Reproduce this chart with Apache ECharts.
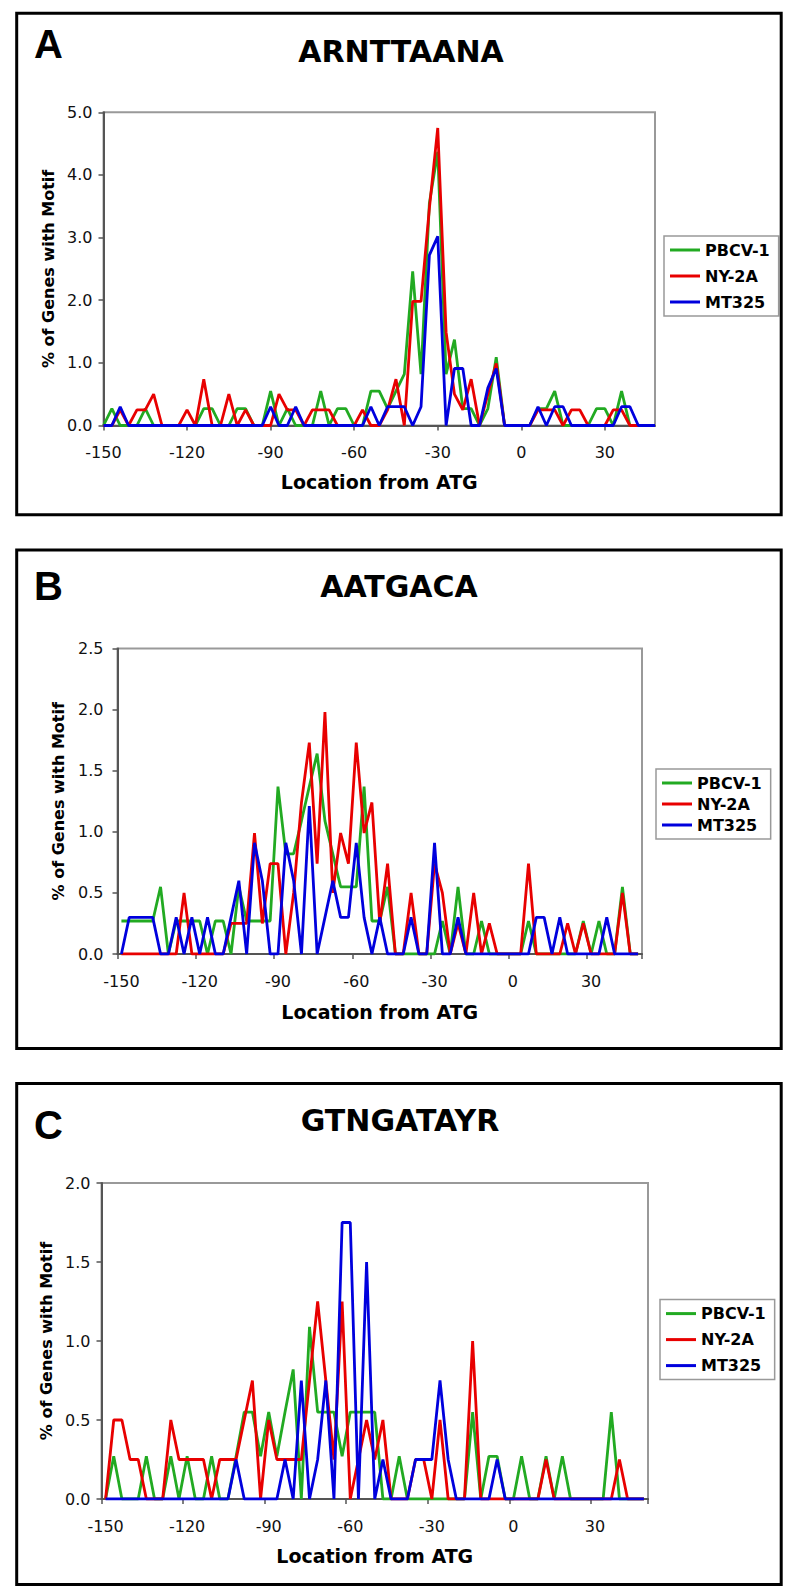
<!DOCTYPE html>
<html>
<head>
<meta charset="utf-8">
<script src="https://cdn.jsdelivr.net/npm/echarts@6/dist/echarts.min.js"></script>
<style>
html,body{margin:0;padding:0;background:#fff;}
#chart{width:789px;height:1595px;}
</style>
</head>
<body>
<div id="chart"></div>
<script>
// ---- data ----
const positions = [-150,-147,-144,-141,-138,-135,-132,-129,-126,-123,
  -120,-117,-114,-111,-108,-105,-102,-99,-96,-93,
  -90,-87,-84,-81,-78,-75,-72,-69,-66,-63,
  -60,-57,-54,-51,-48,-45,-42,-39,-36,-33,
  -30,-27,-24,-21,-18,-15,-12,-9,-6,-3,
  0,3,6,9,12,15,18,21,24,27,
  30,33,36,39,42,45,48];
const seriesNames = ['PBCV-1', 'NY-2A', 'MT325'];
const motifs = ['ARNTTAANA', 'AATGACA', 'GTNGATAYR'];
const panelLetters = ['A', 'B', 'C'];

const pbcvA = [0,0.27,0,0,0,0.27,0,0,0,0,
  0,0,0.27,0.27,0,0,0.27,0.27,0,0,
  0.55,0,0.27,0,0,0,0.55,0,0.27,0.27,
  0,0,0.55,0.55,0.27,0.55,0.82,2.46,0.82,3.55,
  4.37,0.82,1.37,0.27,0.27,0,0.27,1.09,0,0,
  0,0,0.27,0.27,0.55,0,0,0,0,0.27,
  0.27,0,0.55,0,0,0,0];
const ny2aA = [0,0,0.25,0,0.25,0.25,0.5,0,0,0,
  0.25,0,0.74,0,0,0.5,0,0.25,0,0,
  0,0.5,0.25,0.25,0,0.25,0.25,0.25,0,0,
  0,0.25,0,0,0.25,0.74,0,1.98,1.98,3.47,
  4.75,1.49,0.5,0.25,0.74,0,0.5,0.99,0,0,
  0,0,0.25,0.25,0.25,0,0.25,0.25,0,0,
  0,0.25,0.25,0,0,0,0];
const mt325A = [0,0,0.3,0,0,0,0,0,0,0,
  0,0,0,0,0,0,0,0,0,0,
  0.3,0,0,0.3,0,0,0,0,0,0,
  0,0,0.3,0,0.3,0.3,0.3,0,0.3,2.72,
  3.02,0,0.91,0.91,0,0,0.6,0.91,0,0,
  0,0,0.3,0,0.3,0.3,0,0,0,0,
  0,0,0.3,0.3,0,0,0];

const pbcvB = [0.27,0.27,0.27,0.27,0.27,0.55,0,0.27,0.27,0.27,
  0.27,0,0.27,0.27,0,0.55,0.27,0.27,0.27,0.27,
  1.37,0.82,0.82,1.09,1.37,1.64,1.09,0.82,0.55,0.55,
  0.55,1.37,0.27,0.27,0.55,0,0,0,0,0,
  0,0.27,0,0.55,0,0,0.27,0,0,0,
  0,0,0.27,0,0,0,0,0,0,0.27,
  0,0.27,0,0,0.55,0,0];
const ny2aB = [0,0,0,0,0,0,0,0,0.5,0,
  0,0,0,0,0.25,0.25,0.25,0.99,0.25,0.74,
  0.74,0,0.5,1.24,1.73,0.74,1.98,0.5,0.99,0.74,
  1.73,0.99,1.24,0.25,0.74,0,0,0.5,0,0,
  0.74,0.5,0,0.25,0,0.5,0,0.25,0,0,
  0,0,0.74,0,0,0,0,0.25,0,0.25,
  0,0,0,0,0.5,0,0];
const mt325B = [0,0.3,0.3,0.3,0.3,0,0,0.3,0,0.3,
  0,0.3,0,0,0.3,0.6,0,0.91,0.6,0,
  0,0.91,0.6,0,1.21,0,0.3,0.6,0.3,0.3,
  0.91,0.3,0,0.3,0,0,0,0.3,0,0,
  0.91,0,0,0.3,0,0,0,0,0,0,
  0,0,0,0.3,0.3,0,0.3,0,0,0,
  0,0,0.3,0,0,0,0];

const pbcvC = [0,0.27,0,0,0,0.27,0,0,0.27,0,
  0.27,0,0,0.27,0,0,0.27,0.55,0.55,0.27,
  0.55,0.27,0.55,0.82,0,1.09,0.55,0.55,0.55,0.27,
  0.55,0.55,0.55,0.55,0,0,0.27,0,0,0,
  0,0,0,0,0,0.55,0,0.27,0.27,0,
  0,0.27,0,0,0.27,0,0.27,0,0,0,
  0,0,0.55,0,0,0,0];
const ny2aC = [0,0.5,0.5,0.25,0.25,0,0,0,0.5,0.25,
  0.25,0.25,0.25,0,0.25,0.25,0.25,0.5,0.75,0,
  0.5,0.25,0.25,0.25,0.25,0.75,1.25,0.75,0.25,1.25,
  0,0.25,0.5,0.25,0.5,0,0,0,0.25,0.25,
  0,0.5,0,0,0,1.0,0,0,0,0,
  0,0,0,0,0.25,0,0,0,0,0,
  0,0,0,0.25,0,0,0];
const mt325C = [0,0,0,0,0,0,0,0,0,0,
  0,0,0,0,0,0,0.25,0,0,0,
  0,0,0.25,0,0.75,0,0.25,0.75,0,1.75,
  1.75,0,1.5,0,0.25,0,0,0,0.25,0.25,
  0.25,0.75,0.25,0,0,0,0,0,0.25,0,
  0,0,0,0,0,0,0,0,0,0,
  0,0,0,0,0,0,0];

const yMaxes = [5, 2.5, 2];
const yIntervals = [1, 0.5, 0.5];

// ---- layout / style ----
const colors = ['#22aa22', '#e80000', '#0000dd'];
const layout = [
  { box:[16.7, 13.3, 764.5, 501.4], letter:[48.5, 44], title:[401, 51],
    grid:{left:103.5, top:112.3, width:551.5, height:313.2}, boundaryGap:false,
    legend:{left:664, top:236, gap:10}, xNameGap:47, yNameGap:47, yLabelMargin:11 },
  { box:[16.7, 550, 764.5, 498.5], letter:[48.5, 585.5], title:[399, 586],
    grid:{left:117.5, top:648.5, width:524.5, height:305.5}, boundaryGap:true,
    legend:{left:656, top:769, gap:5}, xNameGap:48, yNameGap:51, yLabelMargin:14 },
  { box:[16.7, 1083.5, 764.5, 501], letter:[48.5, 1125], title:[400, 1120.5],
    grid:{left:101.5, top:1183, width:546.5, height:316}, boundaryGap:true,
    legend:{left:660, top:1299.6, gap:10}, xNameGap:47, yNameGap:47, yLabelMargin:11 }
];
const panelData = [[pbcvA, ny2aA, mt325A], [pbcvB, ny2aB, mt325B], [pbcvC, ny2aC, mt325C]];

const FONT = '"DejaVu Sans", Verdana, sans-serif';
const chart = echarts.init(document.getElementById('chart'), null, {renderer:'svg'});

const graphic = [];
layout.forEach((L, k) => {
  graphic.push({type:'rect', z:100, shape:{x:L.box[0], y:L.box[1], width:L.box[2], height:L.box[3]},
    style:{fill:'none', stroke:'#000', lineWidth:3}});
  graphic.push({type:'text', z:100, x:L.letter[0], y:L.letter[1],
    style:{text:panelLetters[k], font:'bold 40px "Liberation Sans", Arial, sans-serif', fill:'#000',
      align:'center', verticalAlign:'middle', textAlign:'center', textVerticalAlign:'middle'}});
  graphic.push({type:'text', z:100, x:L.title[0], y:L.title[1],
    style:{text:motifs[k], font:'bold 30px ' + FONT, fill:'#000',
      align:'center', verticalAlign:'middle', textAlign:'center', textVerticalAlign:'middle'}});
});

const series = [];
panelData.forEach((arrs, k) => {
  arrs.forEach((vals, s) => {
    series.push({type:'line', name:seriesNames[s], xAxisIndex:k, yAxisIndex:k, data:vals,
      symbol:'none', z:2 + s, lineStyle:{width:2.8, color:colors[s]}, itemStyle:{color:colors[s]}});
  });
});

chart.setOption({
  animation:false,
  backgroundColor:'#fff',
  graphic: graphic,
  grid: layout.map(L => Object.assign({show:true, borderColor:'#999', borderWidth:2, backgroundColor:'#fff'}, L.grid)),
  legend: layout.map(L => ({
    orient:'vertical', left:L.legend.left, top:L.legend.top, itemWidth:30, itemHeight:3,
    itemGap:L.legend.gap, icon:'rect', borderColor:'#999', borderWidth:1.5, padding:[6, 9, 6, 6],
    backgroundColor:'#fff', data:seriesNames,
    textStyle:{fontFamily:FONT, fontWeight:'bold', fontSize:16, color:'#000'}
  })),
  xAxis: layout.map((L, k) => ({
    type:'category', gridIndex:k, data:positions.map(String), boundaryGap:L.boundaryGap,
    axisLine:{show:true, lineStyle:{color:'#555', width:2}},
    axisTick:{show:true, interval:9, length:5, lineStyle:{color:'#555', width:1.5}},
    axisLabel:{interval:9, margin:19, fontFamily:FONT, fontSize:16, color:'#111'},
    splitLine:{show:false},
    name:'Location from ATG', nameLocation:'middle', nameGap:L.xNameGap,
    nameTextStyle:{fontFamily:FONT, fontWeight:'bold', fontSize:19, color:'#000'}
  })),
  yAxis: layout.map((L, k) => ({
    type:'value', gridIndex:k, min:0, max:yMaxes[k], interval:yIntervals[k],
    axisLine:{show:true, lineStyle:{color:'#555', width:2}},
    axisTick:{show:true, length:5, lineStyle:{color:'#555', width:1.5}},
    splitLine:{show:false},
    axisLabel:{formatter: v => v.toFixed(1), margin:L.yLabelMargin, fontFamily:FONT, fontSize:16, color:'#111'},
    name:'% of Genes with Motif', nameLocation:'middle', nameGap:L.yNameGap,
    nameTextStyle:{fontFamily:FONT, fontWeight:'bold', fontSize:16, color:'#000'}
  })),
  series: series
});
</script>
</body>
</html>
